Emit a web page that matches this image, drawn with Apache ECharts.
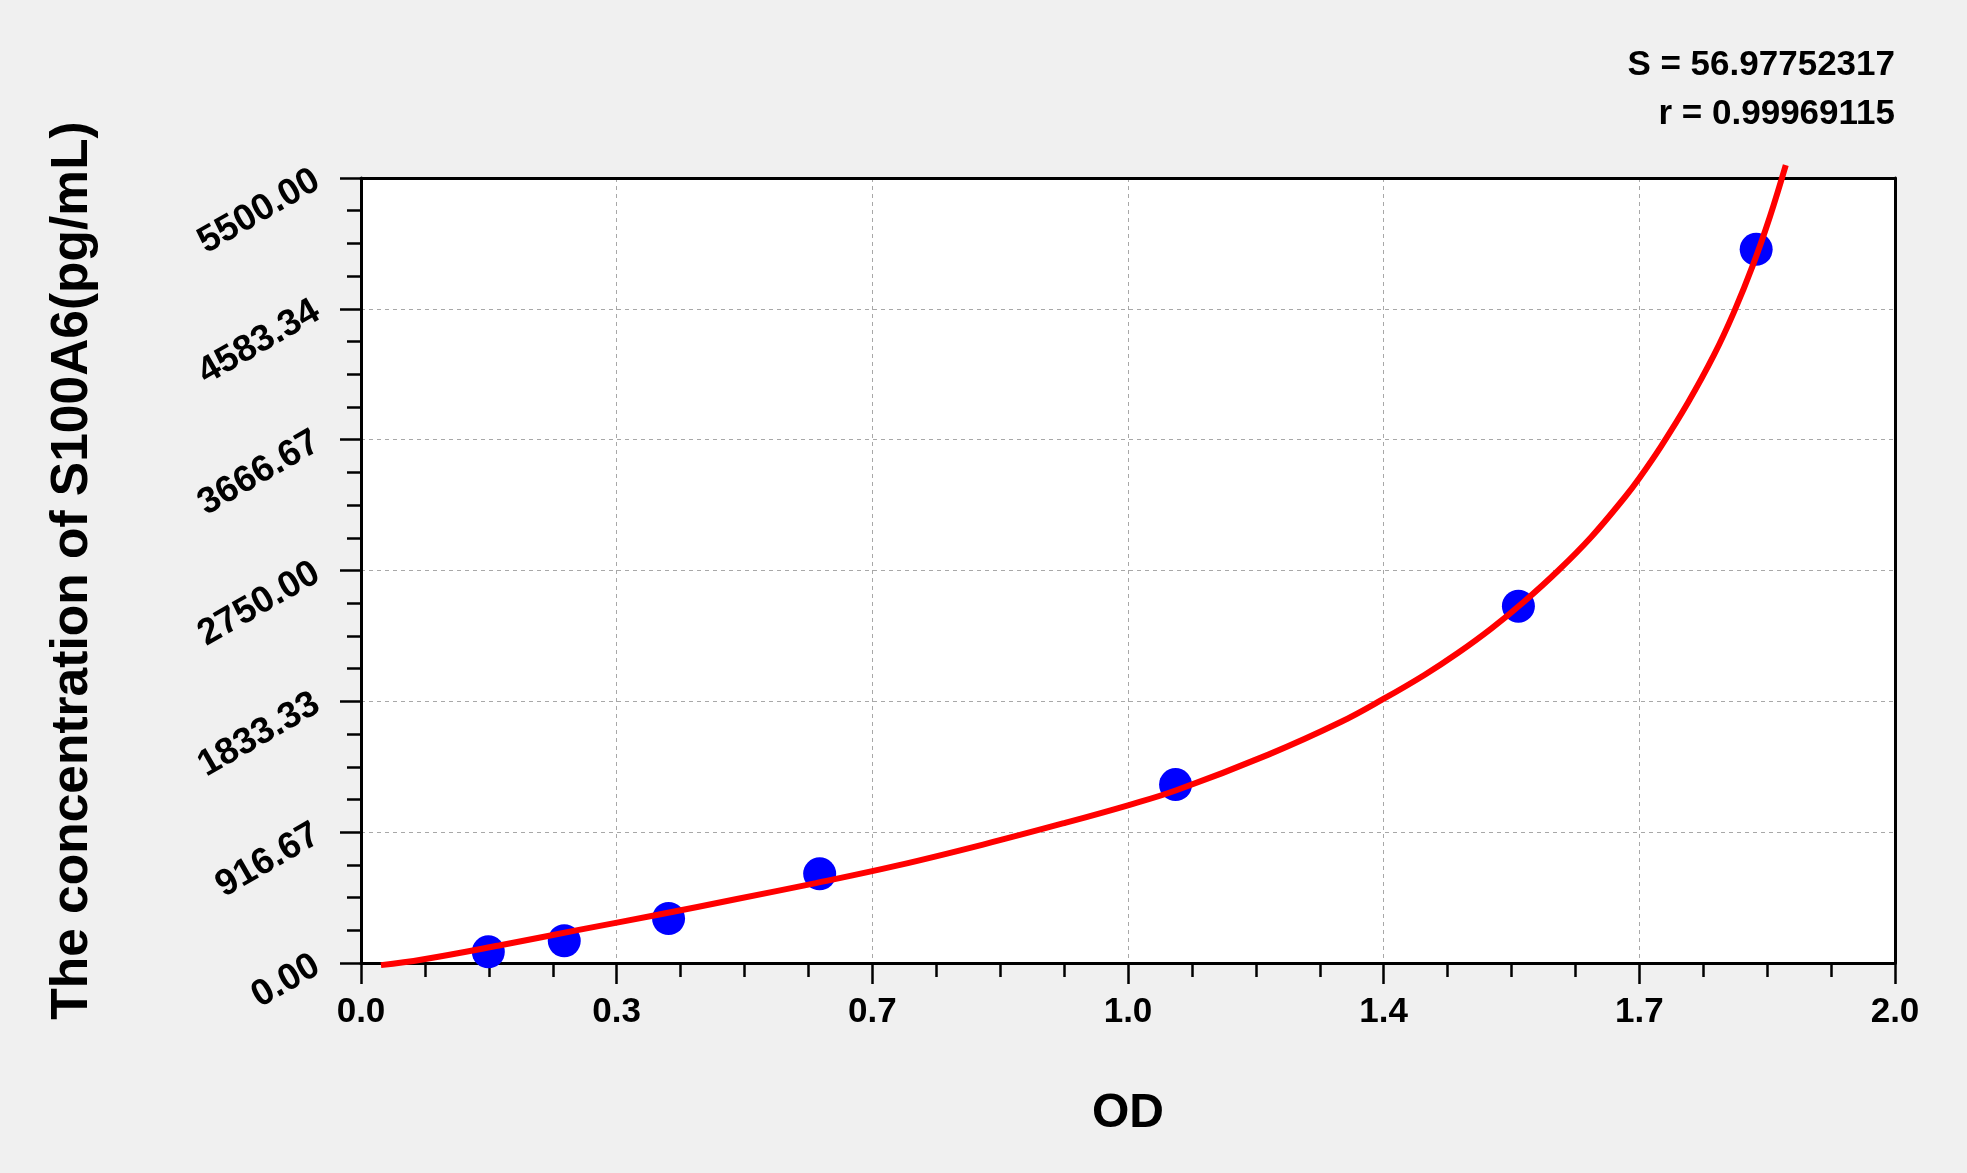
<!DOCTYPE html>
<html>
<head>
<meta charset="utf-8">
<script src="https://cdn.jsdelivr.net/npm/echarts@6/dist/echarts.min.js"></script>
<style>
html,body{margin:0;padding:0;background:#f0f0f0;}
#chart{width:1967px;height:1173px;}
</style>
</head>
<body>
<div id="chart"></div>
<script>
// Standard points (OD, concentration)
var odPoints = [0.166, 0.265, 0.401, 0.598, 1.062, 1.509, 1.819];
var concPoints = [78, 156, 312, 625, 1250, 2500, 5000];

// Fitted curve
var curveOD = [0.026, 0.08, 0.18, 0.284, 0.387, 0.49, 0.593, 0.70, 0.811, 0.918, 1.0, 1.063, 1.183, 1.278, 1.333, 1.387, 1.430, 1.474, 1.517, 1.561, 1.604, 1.648, 1.667, 1.695, 1.730, 1.764, 1.790, 1.8155, 1.837, 1.8576];
var curveConc = [-15, 25, 123, 232, 338, 448, 560, 684, 830, 982, 1105, 1210, 1460, 1690, 1850, 2020, 2172, 2345, 2535, 2750, 2985, 3265, 3400, 3620, 3925, 4260, 4560, 4900, 5230, 5590];

// Tick labels
var xTickLabels = ['0.0', '0.3', '0.7', '1.0', '1.4', '1.7', '2.0'];
var yTickLabels = ['0.00', '916.67', '1833.33', '2750.00', '3666.67', '4583.34', '5500.00'];

var statLines = ['S = 56.97752317', 'r = 0.99969115'];

var xMax = 2, yMax = 5500;
var xStep = xMax / 6, yStep = yMax / 6;
var FONT = '"Liberation Sans", Arial, sans-serif';

var chart = echarts.init(document.getElementById('chart'));

var scatterData = odPoints.map(function (x, i) { return [x, concPoints[i]]; });
var curveData = curveOD.map(function (x, i) { return [x, curveConc[i]]; });

var frameAxis = {
  axisLine: { show: true, onZero: false, lineStyle: { color: '#000', width: 3 } },
  axisTick: { show: false }, axisLabel: { show: false }, splitLine: { show: false }
};

var option = {
  backgroundColor: '#f0f0f0',
  animation: false,
  grid: {
    left: 361, right: 72, top: 178, bottom: 210,
    show: true, backgroundColor: '#ffffff', borderColor: '#000000', borderWidth: 0
  },
  xAxis: [{
    type: 'value', min: 0, max: xMax, interval: xStep,
    name: 'OD', nameLocation: 'middle', nameGap: 127,
    nameTextStyle: { fontFamily: FONT, fontWeight: 'bold', fontSize: 48, color: '#000' },
    axisLine: { show: true, onZero: false, lineStyle: { color: '#000', width: 3 } },
    axisTick: { show: true, inside: false, length: 21, lineStyle: { color: '#000', width: 2.5 } },
    minorTick: { show: true, splitNumber: 4, length: 14, lineStyle: { color: '#000', width: 2.5 } },
    splitLine: { show: true, showMinLine: false, showMaxLine: false, lineStyle: { color: '#a8a8a8', width: 1, type: [4, 4] } },
    axisLabel: {
      margin: 32, fontFamily: FONT, fontWeight: 'bold', fontSize: 35, color: '#000',
      formatter: function (v) { var i = Math.round(v / xStep); return xTickLabels[i] || ''; }
    }
  }, Object.assign({ type: 'value', position: 'top', min: 0, max: xMax }, frameAxis)],
  yAxis: [{
    type: 'value', min: 0, max: yMax, interval: yStep,
    name: 'The concentration of S100A6(pg/mL)', nameLocation: 'middle', nameGap: 262,
    nameTextStyle: { fontFamily: FONT, fontWeight: 'bold', fontSize: 51.5, color: '#000' },
    axisLine: { show: true, onZero: false, lineStyle: { color: '#000', width: 3 } },
    axisTick: { show: true, inside: false, length: 21, lineStyle: { color: '#000', width: 2.5 } },
    minorTick: { show: true, splitNumber: 4, length: 14, lineStyle: { color: '#000', width: 2.5 } },
    splitLine: { show: true, showMinLine: false, showMaxLine: false, lineStyle: { color: '#a8a8a8', width: 1, type: [4, 4] } },
    axisLabel: {
      margin: 44, rotate: 30, fontFamily: FONT, fontWeight: 'bold', fontSize: 37, color: '#000',
      formatter: function (v) { var i = Math.round(v / yStep); return yTickLabels[i] || ''; }
    }
  }, Object.assign({ type: 'value', position: 'right', min: 0, max: yMax }, frameAxis)],
  graphic: [
    { type: 'text', x: 1895, y: 65, style: { text: statLines[0], textAlign: 'right', textVerticalAlign: 'middle', font: 'bold 35px ' + FONT, fill: '#000' } },
    { type: 'text', x: 1895, y: 114, style: { text: statLines[1], textAlign: 'right', textVerticalAlign: 'middle', font: 'bold 35px ' + FONT, fill: '#000' } }
  ],
  series: [
    {
      type: 'scatter', data: scatterData, symbol: 'circle', symbolSize: 33,
      itemStyle: { color: '#0000ff', opacity: 1 }, z: 2
    },
    {
      type: 'line', data: curveData, smooth: 0.4, showSymbol: false, clip: false,
      lineStyle: { color: '#ff0000', width: 6 }, z: 3
    }
  ]
};
chart.setOption(option);
</script>
</body>
</html>
